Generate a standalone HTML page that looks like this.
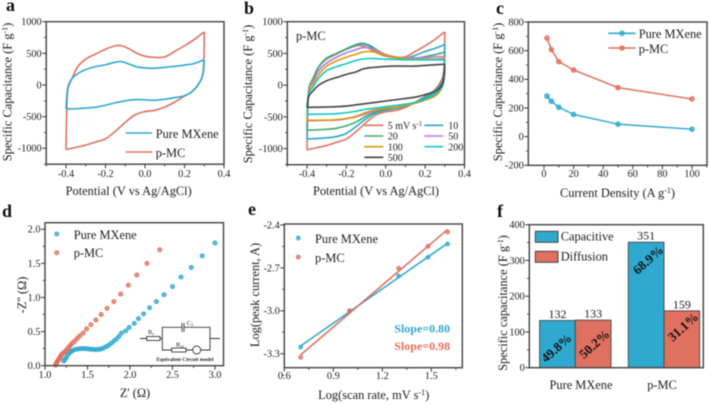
<!DOCTYPE html>
<html><head><meta charset="utf-8">
<style>
html,body{margin:0;padding:0;background:#fff;width:710px;height:404px;overflow:hidden}
svg{display:block;filter:blur(0.45px);font-family:"Liberation Serif",serif;fill:#222}
text{fill:#1c1c1c}
.t{font-size:10.3px}
.ti{font-size:12.4px}
.lg{font-size:12.4px}
.pl{font-size:18px;font-weight:bold;fill:#111}
</style></head><body>
<svg id="fig" width="710" height="404" viewBox="0 0 710 404" xmlns="http://www.w3.org/2000/svg">
<g id="panel-a">
<text class="pl" x="6" y="11">a</text>
<text class="ti" text-anchor="middle" transform="translate(11.5,92) rotate(-90)">Specific Capacitance (F g<tspan dy="-4" font-size="8">-1</tspan><tspan dy="4">)</tspan></text>
<text class="ti" x="128.7" y="195" text-anchor="middle">Potential (V vs Ag/AgCl)</text>
<text class="lg" x="155.7" y="138">Pure MXene</text>
<text class="lg" x="155.7" y="157">p-MC</text>
</g>
<g id="panel-b">
<text class="pl" x="244" y="14">b</text>
<text class="ti" text-anchor="middle" transform="translate(252,94) rotate(-90)">Specific Capacitance (F g<tspan dy="-4" font-size="8">-1</tspan><tspan dy="4">)</tspan></text>
<text class="ti" x="376" y="195" text-anchor="middle">Potential (V vs Ag/AgCl)</text>
<text class="lg" x="296" y="40">p-MC</text>
<text class="t" x="387.7" y="129" style="font-size:10px">5 mV s<tspan dy="-3" font-size="7">-1</tspan></text>
<text class="t" x="448.3" y="129" style="font-size:10px">10</text>
<text class="t" x="387.7" y="139.7" style="font-size:10px">20</text>
<text class="t" x="448.3" y="139.7" style="font-size:10px">50</text>
<text class="t" x="387.7" y="150.4" style="font-size:10px">100</text>
<text class="t" x="448.3" y="150.4" style="font-size:10px">200</text>
<text class="t" x="387.7" y="161" style="font-size:10px">500</text>
</g>
<g id="panel-c">
<text class="pl" x="496" y="14">c</text>
<text class="ti" text-anchor="middle" transform="translate(502,92) rotate(-90)">Specific Capacitance (F g<tspan dy="-4" font-size="8">-1</tspan><tspan dy="4">)</tspan></text>
<text class="ti" x="617.5" y="197" text-anchor="middle">Current Density (A g<tspan dy="-4" font-size="8">-1</tspan><tspan dy="4">)</tspan></text>
<text class="lg" x="638.7" y="38">Pure MXene</text>
<text class="lg" x="638.7" y="53">p-MC</text>
</g>
<g id="panel-d">
<text class="pl" x="2" y="217">d</text>
<text class="ti" text-anchor="middle" transform="translate(26,295) rotate(-90)">-Z'' (Ω)</text>
<text class="ti" x="135" y="397" text-anchor="middle">Z' (Ω)</text>
<text class="lg" x="73.7" y="239">Pure MXene</text>
<text class="lg" x="73.7" y="257">p-MC</text>
<g fill="none" stroke="#333" stroke-width="0.9">
<path d="M140 338.500H146.700M160 338.500H162.300V327.300H182M184 327.300H210V350H200.700M192.700 350H186M171.700 350H162.300V338.500M210 338.500H220"/>
<path d="M182 323V332M184 323V332"/>
<rect x="146.700" y="336.500" width="13.300" height="4"/>
<rect x="171.700" y="348" width="14.300" height="4"/>
<circle cx="196.700" cy="350" r="4"/>
</g>
<text x="148" y="334" font-size="6.500">R<tspan font-size="4.500" dy="1">s</tspan></text>
<text x="186.700" y="325" font-size="6.500">C<tspan font-size="4.500" dy="1">1</tspan></text>
<text x="176" y="346.700" font-size="6.500">R<tspan font-size="4.500" dy="1">ct</tspan></text>
<text x="185" y="361" font-size="5.300" font-weight="bold" text-anchor="middle">Equivalent Circuit model</text>
</g>
<g id="panel-e">
<text class="pl" x="248" y="215">e</text>
<text class="ti" text-anchor="middle" transform="translate(259,295) rotate(-90)">Log(peak current, A)</text>
<text class="ti" x="373.7" y="399" text-anchor="middle">Log(scan rate, mV s<tspan dy="-4" font-size="8">-1</tspan><tspan dy="4">)</tspan></text>
<text class="lg" x="315" y="243">Pure MXene</text>
<text class="lg" x="315" y="262">p-MC</text>
<text x="394.3" y="332.300" font-size="12" font-weight="bold" style="fill:#2fa9cf">Slope=0.80</text>
<text x="394.3" y="350" font-size="12" font-weight="bold" style="fill:#e0705f">Slope=0.98</text>
</g>
<g id="panel-f">
<text class="pl" x="497" y="217">f</text>
<text class="ti" text-anchor="middle" transform="translate(507,303) rotate(-90)">Specific capacitance (F g<tspan dy="-4" font-size="8">-1</tspan><tspan dy="4">)</tspan></text>
<text class="lg" x="581" y="389" text-anchor="middle">Pure MXene</text>
<text class="lg" x="662" y="389" text-anchor="middle">p-MC</text>
<rect x="535.300" y="231.300" width="22.700" height="11" fill="#2fa9cf" stroke="#444"/>
<rect x="535.300" y="251.300" width="22.700" height="11" fill="#e0705f" stroke="#444"/>
<text class="lg" x="560.7" y="240.500">Capacitive</text>
<text class="lg" x="560.7" y="260.500">Diffusion</text>
</g>
</svg>
<script>
// ---------- colours
const BLUE = '#2fa9cf', RED = '#e0705f';
// ---------- panels a / b : CV curves (potential grid + capacitance)
const cvUpV = [-0.4,-0.397,-0.39,-0.37,-0.34,-0.3,-0.25,-0.2,-0.15,-0.12,-0.08,-0.04,0,0.05,0.1,0.15,0.2,0.25,0.3];
const cvDownV = [0.3,0.297,0.288,0.27,0.24,0.2,0.15,0.1,0.05,0,-0.05,-0.1,-0.15,-0.2,-0.25,-0.3,-0.35,-0.4];
const aPureUp = [-380,-230,-30,100,180,245,290,320,360,370,330,285,270,265,280,295,315,340,400];
const aPureDown = [400,240,110,10,-100,-170,-200,-225,-240,-235,-230,-250,-280,-320,-350,-365,-375,-380];
const up5 = [-1020,-500,-60,100,290,410,490,565,620,620,570,500,455,435,445,530,620,720,840];
const down5 = [840,300,120,10,-100,-175,-270,-350,-400,-420,-470,-590,-730,-850,-900,-950,-985,-1020];
const up10 = [-850,-450,-50,100,290,425,500,570,630,650,610,530,475,440,425,470,530,580,640];
const down10 = [640,250,70,-30,-120,-190,-270,-330,-370,-395,-440,-530,-650,-760,-810,-830,-840,-850];
const up20 = [-710,-400,-40,100,290,425,500,575,640,660,625,545,480,435,415,420,450,480,520];
const down20 = [520,200,30,-70,-150,-210,-280,-320,-360,-385,-420,-490,-580,-640,-680,-695,-705,-710];
const up50 = [-560,-350,-60,60,230,350,440,510,560,590,585,530,480,445,430,430,435,445,450];
const down50 = [450,170,-10,-110,-180,-230,-280,-320,-350,-365,-400,-450,-500,-530,-550,-555,-558,-560];
const up100 = [-555,-350,-80,20,170,300,380,440,490,520,530,510,470,440,420,410,410,410,420];
const down100 = [420,140,-20,-120,-190,-235,-285,-320,-350,-360,-385,-430,-490,-525,-545,-550,-553,-555];
const up200 = [-460,-320,-120,-30,110,230,290,340,390,410,420,415,410,405,400,400,400,400,400];
const down200 = [400,130,-10,-90,-160,-220,-270,-300,-320,-340,-360,-380,-410,-435,-450,-455,-458,-460];
const up500 = [-350,-270,-170,-90,0,70,120,170,210,250,275,285,295,300,300,300,310,320,330];
const down500 = [330,150,20,-60,-110,-150,-190,-210,-230,-250,-270,-290,-310,-330,-340,-345,-348,-350];
const cvXTicks = [-0.4,-0.2,0,0.2,0.4];
const cvXTickLabels = ['-0.4','-0.2','0.0','0.2','0.4'];
const cvYTicks = [1000,500,0,-500,-1000];
const cvYTickLabels = ['1000','500','0','-500','-1000'];
// ---------- panel c : rate capability
const cDensity = [2,5,10,20,50,100];
const cPure = [283,247,205,155,87,52];
const cPMC = [688,607,523,465,342,263];
const cXTicks = [0,20,40,60,80,100];
const cYTicks = [-200,0,200,400,600,800];
// ---------- panel d : Nyquist
const dPureRe = [1.22,1.235,1.25,1.27,1.29,1.31,1.33,1.36,1.39,1.42,1.45,1.48,1.51,1.54,1.57,1.6,1.63,1.66,1.69,1.72,1.75,1.78,1.81,1.84,1.87,1.9,1.95,1.99,2.05,2.1,2.16,2.23,2.31,2.4,2.5,2.6,2.72,2.85,3.0];
const dPureIm = [0.07,0.09,0.12,0.16,0.19,0.21,0.225,0.24,0.245,0.25,0.25,0.25,0.245,0.24,0.24,0.235,0.24,0.245,0.26,0.28,0.3,0.33,0.36,0.39,0.43,0.48,0.51,0.56,0.62,0.69,0.76,0.85,0.94,1.04,1.16,1.3,1.44,1.61,1.8];
const dPMCRe = [1.125,1.13,1.14,1.15,1.16,1.17,1.18,1.19,1.2,1.22,1.24,1.26,1.28,1.3,1.32,1.35,1.38,1.41,1.45,1.49,1.54,1.6,1.66,1.73,1.81,1.89,1.98,2.08,2.2,2.35];
const dPMCIm = [0.01,0.03,0.05,0.07,0.09,0.11,0.13,0.15,0.17,0.19,0.21,0.24,0.27,0.3,0.33,0.36,0.4,0.44,0.48,0.54,0.6,0.67,0.75,0.84,0.94,1.05,1.18,1.33,1.5,1.7];
const dXTicks = [1,1.5,2,2.5,3];
const dXTickLabels = ['1.0','1.5','2.0','2.5','3.0'];
const dYTicks = [0,0.5,1,1.5,2];
const dYTickLabels = ['0.0','0.5','1.0','1.5','2.0'];
// ---------- panel e : log-log fit
const eScan = [0.7,1,1.3,1.48,1.6];
const ePure = [-3.253,-3.0,-2.757,-2.626,-2.533];
const ePMC = [-3.325,-3.0,-2.703,-2.549,-2.449];
const eXTicks = [0.6,0.9,1.2,1.5];
const eXTickLabels = ['0.6','0.9','1.2','1.5'];
const eYTicks = [-2.4,-2.7,-3.0,-3.3];
const eYTickLabels = ['-2.4','-2.7','-3.0','-3.3'];
// ---------- panel f : bars
const fCategories = ['Pure MXene','p-MC'];
const fCapacitive = [132,351];
const fDiffusion = [133,159];
const fCapacitivePct = ['49.8%','68.9%'];
const fDiffusionPct = ['50.2%','31.1%'];
const fYTicks = [0,100,200,300,400];

const NS = 'http://www.w3.org/2000/svg';
function mk(parent, tag, attrs, name) {
  const el = document.createElementNS(NS, tag);
  for (const k in attrs) el.setAttribute(k, attrs[k]);
  
  
  parent.appendChild(el);
  return el;
}
function scale(d0, p0, d1, p1) { return v => p0 + (v - d0) * (p1 - p0) / (d1 - d0); }

function axes(g, prefix, box, xs, ys, o) {
  mk(g, 'rect', {x: box.l, y: box.t, width: box.r - box.l, height: box.b - box.t, fill: 'none', stroke: '#4d4d4d', 'stroke-width': 1.5}, prefix + '-frame');
  (o.xMajor || []).forEach((v, i) => {
    mk(g, 'line', {x1: xs(v), x2: xs(v), y1: box.b, y2: box.b + 4, stroke: '#333', 'stroke-width': 1}, prefix + '-x-tick');
    const t = mk(g, 'text', {x: xs(v), y: o.xLabelY, 'text-anchor': 'middle', class: 't'}, prefix + '-x-tick-label');
    t.textContent = o.xLabels[i];
  });
  (o.xMinor || []).forEach(v => {
    mk(g, 'line', {x1: xs(v), x2: xs(v), y1: box.b, y2: box.b + 2.2, stroke: '#333', 'stroke-width': 0.9}, prefix + '-x-minor-tick');
  });
  o.yMajor.forEach((v, i) => {
    mk(g, 'line', {x1: box.l - 4, x2: box.l, y1: ys(v), y2: ys(v), stroke: '#333', 'stroke-width': 1}, prefix + '-y-tick');
    const t = mk(g, 'text', {x: box.l - 4.5, y: ys(v) + 3.4, 'text-anchor': 'end', class: 't'}, prefix + '-y-tick-label');
    t.textContent = o.yLabels[i];
  });
  (o.yMinor || []).forEach(v => {
    mk(g, 'line', {x1: box.l - 2.2, x2: box.l, y1: ys(v), y2: ys(v), stroke: '#333', 'stroke-width': 0.9}, prefix + '-y-minor-tick');
  });
}
function mids(a) { const m = []; for (let i = 0; i + 1 < a.length; i++) m.push((a[i] + a[i + 1]) / 2); return m; }
function smooth(xv, yv, xs, ys) {
  const p = xv.map((x, i) => [xs(x), ys(yv[i])]);
  const dirAt = i => {
    const a = p[Math.max(0, i - 1)], c = p[Math.min(p.length - 1, i + 1)];
    const dx = c[0] - a[0], dy = c[1] - a[1], n = Math.hypot(dx, dy) || 1;
    return [dx / n, dy / n];
  };
  let d = 'M' + p[0][0].toFixed(2) + ' ' + p[0][1].toFixed(2);
  for (let i = 0; i + 1 < p.length; i++) {
    const b = p[i], c = p[i + 1], t0 = dirAt(i), t1 = dirAt(i + 1);
    const L = Math.hypot(c[0] - b[0], c[1] - b[1]) / 3;
    d += 'C' + (b[0] + t0[0] * L).toFixed(2) + ' ' + (b[1] + t0[1] * L).toFixed(2) + ' ' +
         (c[0] - t1[0] * L).toFixed(2) + ' ' + (c[1] - t1[1] * L).toFixed(2) + ' ' +
         c[0].toFixed(2) + ' ' + c[1].toFixed(2);
  }
  return d;
}
function cvCurve(g, up, down, color, xs, ys, name) {
  mk(g, 'path', {d: smooth(cvUpV, up, xs, ys) + smooth(cvDownV, down, xs, ys), fill: 'none', stroke: color, 'stroke-width': 1.6, 'stroke-linejoin': 'round'}, name);
}
function legendLine(g, x1, x2, y, color, name) {
  mk(g, 'line', {x1: x1, x2: x2, y1: y, y2: y, stroke: color, 'stroke-width': 1.6}, name);
}
function dot(g, x, y, color, r, name) {
  mk(g, 'circle', {cx: x, cy: y, r: r, fill: color, 'fill-opacity': 0.8, stroke: color, 'stroke-width': 0.6}, name);
}

// ---- panel a
(function () {
  const g = document.getElementById('panel-a');
  const box = {l: 46.2, r: 224, t: 21.7, b: 164.2};
  const xs = scale(-0.4, 66, 0.4, 224), ys = scale(1000, 21.7, -1000, 148.3);
  cvCurve(g, up5, down5, RED, xs, ys, 'a-curve-p-mc');
  cvCurve(g, aPureUp, aPureDown, BLUE, xs, ys, 'a-curve-pure-mxene');
  axes(g, 'a', box, xs, ys, {xMajor: cvXTicks, xLabels: cvXTickLabels, xMinor: [-0.5,-0.3,-0.1,0.1,0.3], xLabelY: 177,
    yMajor: cvYTicks, yLabels: cvYTickLabels, yMinor: [750,250,-250,-750,-1250]});
  legendLine(g, 125.7, 152, 133, BLUE, 'a-legend-line-pure-mxene');
  legendLine(g, 125.7, 152, 152, RED, 'a-legend-line-p-mc');
})();

// ---- panel b
const bColors = ['#e2725f','#2ba6c8','#3fa971','#b87be0','#d99a0a','#14c6c6','#444444'];
(function () {
  const g = document.getElementById('panel-b');
  const box = {l: 287.3, r: 464.5, t: 21.7, b: 164.7};
  const xs = scale(-0.4, 307, 0.4, 464.5), ys = scale(1000, 21.7, -1000, 148.6);
  cvCurve(g, up5, down5, bColors[0], xs, ys, 'b-curve-5');
  cvCurve(g, up10, down10, bColors[1], xs, ys, 'b-curve-10');
  cvCurve(g, up20, down20, bColors[2], xs, ys, 'b-curve-20');
  cvCurve(g, up50, down50, bColors[3], xs, ys, 'b-curve-50');
  cvCurve(g, up100, down100, bColors[4], xs, ys, 'b-curve-100');
  cvCurve(g, up200, down200, bColors[5], xs, ys, 'b-curve-200');
  cvCurve(g, up500, down500, bColors[6], xs, ys, 'b-curve-500');
  axes(g, 'b', box, xs, ys, {xMajor: cvXTicks, xLabels: cvXTickLabels, xMinor: [-0.5,-0.3,-0.1,0.1,0.3], xLabelY: 177,
    yMajor: cvYTicks, yLabels: cvYTickLabels, yMinor: [750,250,-250,-750,-1250]});
  legendLine(g, 364.3, 383.3, 125.3, bColors[0], 'b-legend-line-5');
  legendLine(g, 424.3, 443.3, 125.3, bColors[1], 'b-legend-line-10');
  legendLine(g, 364.3, 383.3, 136, bColors[2], 'b-legend-line-20');
  legendLine(g, 424.3, 443.3, 136, bColors[3], 'b-legend-line-50');
  legendLine(g, 364.3, 383.3, 146.7, bColors[4], 'b-legend-line-100');
  legendLine(g, 424.3, 443.3, 146.7, bColors[5], 'b-legend-line-200');
  legendLine(g, 364.3, 383.3, 157.3, bColors[6], 'b-legend-line-500');
})();

// ---- panel c
(function () {
  const g = document.getElementById('panel-c');
  const box = {l: 528.3, r: 707, t: 22, b: 165.3};
  const xs = scale(0, 544, 100, 692), ys = scale(800, 22, -200, 165.3);
  [[cPure, BLUE, 'pure-mxene'], [cPMC, RED, 'p-mc']].forEach(s => {
    mk(g, 'path', {d: cDensity.map((x, i) => (i ? 'L' : 'M') + xs(x) + ' ' + ys(s[0][i])).join(''), fill: 'none', stroke: s[1], 'stroke-width': 1.5}, 'c-line-' + s[2]);
    cDensity.forEach((x, i) => dot(g, xs(x), ys(s[0][i]), s[1], 2.5, 'c-point-' + s[2]));
  });
  axes(g, 'c', box, xs, ys, {xMajor: cXTicks, xLabels: cXTicks.map(String), xMinor: [10,30,50,70,90,110], xLabelY: 177,
    yMajor: cYTicks, yLabels: cYTicks.map(String), yMinor: [-100,100,300,500,700]});
  legendLine(g, 608.3, 635.7, 33.3, BLUE, 'c-legend-line-pure-mxene');
  dot(g, 622, 33.3, BLUE, 2.5, 'c-legend-marker-pure-mxene');
  legendLine(g, 608.3, 635.7, 48, RED, 'c-legend-line-p-mc');
  dot(g, 622, 48, RED, 2.5, 'c-legend-marker-p-mc');
})();

// ---- panel d
(function () {
  const g = document.getElementById('panel-d');
  const box = {l: 45, r: 223.5, t: 222.7, b: 365.7};
  const xs = scale(1, 45, 3, 215), ys = scale(0, 365.7, 2, 229.3);
  dPureRe.forEach((x, i) => dot(g, xs(x), ys(dPureIm[i]), BLUE, 2.2, 'd-point-pure-mxene'));
  dPMCRe.forEach((x, i) => dot(g, xs(x), ys(dPMCIm[i]), RED, 2.2, 'd-point-p-mc'));
  axes(g, 'd', box, xs, ys, {xMajor: dXTicks, xLabels: dXTickLabels, xMinor: mids(dXTicks), xLabelY: 378,
    yMajor: dYTicks, yLabels: dYTickLabels, yMinor: mids(dYTicks)});
  dot(g, 56.7, 234, BLUE, 2.2, 'd-legend-marker-pure-mxene');
  dot(g, 56.7, 252.7, RED, 2.2, 'd-legend-marker-p-mc');
})();

// ---- panel e
function fitLine(xv, yv) {
  const n = xv.length, mx = xv.reduce((a, b) => a + b, 0) / n, my = yv.reduce((a, b) => a + b, 0) / n;
  let sxy = 0, sxx = 0;
  xv.forEach((x, i) => { sxy += (x - mx) * (yv[i] - my); sxx += (x - mx) * (x - mx); });
  const m = sxy / sxx;
  return x => my + m * (x - mx);
}
(function () {
  const g = document.getElementById('panel-e');
  const box = {l: 284.3, r: 462.3, t: 224, b: 367.7};
  const xs = scale(0.6, 284.3, 1.5, 431.3), ys = scale(-2.4, 225, -3.3, 353.7);
  [[ePure, BLUE, 'pure-mxene'], [ePMC, RED, 'p-mc']].forEach(s => {
    const f = fitLine(eScan, s[0]);
    const x0 = eScan[0], x1 = eScan[eScan.length - 1];
    mk(g, 'line', {x1: xs(x0), y1: ys(f(x0)), x2: xs(x1), y2: ys(f(x1)), stroke: s[1], 'stroke-width': 1.6}, 'e-fit-line-' + s[2]);
    eScan.forEach((x, i) => dot(g, xs(x), ys(s[0][i]), s[1], 2.1, 'e-point-' + s[2]));
  });
  axes(g, 'e', box, xs, ys, {xMajor: eXTicks, xLabels: eXTickLabels, xMinor: [0.75,1.05,1.35,1.65], xLabelY: 379,
    yMajor: eYTicks, yLabels: eYTickLabels, yMinor: [-2.55,-2.85,-3.15,-3.45]});
  dot(g, 298.3, 238, BLUE, 2.1, 'e-legend-marker-pure-mxene');
  dot(g, 298.3, 257, RED, 2.1, 'e-legend-marker-p-mc');
})();

// ---- panel f
(function () {
  const g = document.getElementById('panel-f');
  const box = {l: 529.3, r: 703.3, t: 224.7, b: 367.7};
  const ys = scale(0, 367.7, 400, 224.7);
  const bandCentre = i => 575.3 + i * 88.7;
  const barW = 35.7;
  function bar(i, side, v, color, key) {
    const x = side < 0 ? bandCentre(i) - barW : bandCentre(i);
    mk(g, 'rect', {x: x, y: ys(v), width: barW, height: ys(0) - ys(v), fill: color, stroke: '#444', 'stroke-width': 0.9}, 'f-bar-' + key + '-' + fCategories[i].toLowerCase().replace(' ', '-'));
    const t = mk(g, 'text', {x: x + barW / 2, y: ys(v) - 2.5, 'text-anchor': 'middle', 'font-size': 12}, 'f-value-' + key);
    t.textContent = v;
  }
  function pct(x, y, str) {
    const t = mk(g, 'text', {x: 0, y: 0, transform: 'translate(' + x + ',' + y + ') rotate(-42)', 'text-anchor': 'middle', 'dominant-baseline': 'central', 'font-size': 13, 'font-weight': 'bold', style: 'fill:#111'}, 'f-percent-label');
    t.textContent = str;
  }
  fCategories.forEach((c, i) => {
    bar(i, -1, fCapacitive[i], BLUE, 'capacitive');
    bar(i, 1, fDiffusion[i], RED, 'diffusion');
  });
  axes(g, 'f', box, null, ys, {yMajor: fYTicks, yLabels: fYTicks.map(String), yMinor: mids(fYTicks)});
  pct(bandCentre(0) - 19, ys(fCapacitive[0] * 0.42), fCapacitivePct[0]);
  pct(bandCentre(0) + 19, ys(fDiffusion[0] * 0.5), fDiffusionPct[0]);
  pct(bandCentre(1) - 16, ys(fCapacitive[1] * 0.86), fCapacitivePct[1]);
  pct(bandCentre(1) + 19, ys(fDiffusion[1] * 0.72), fDiffusionPct[1]);
})();
</script>
</body></html>
